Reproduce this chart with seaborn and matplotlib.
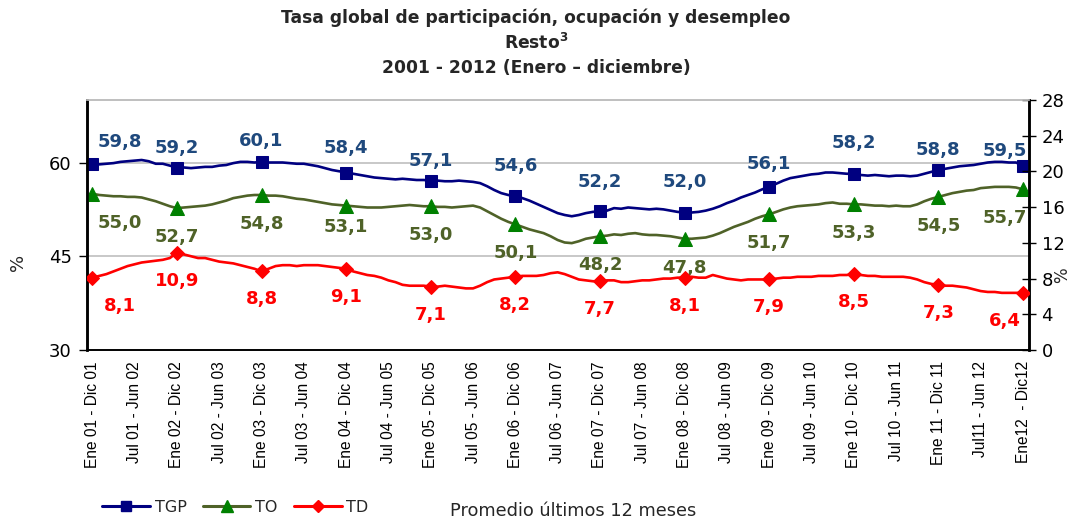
import numpy as np
import pandas as pd
import matplotlib
matplotlib.use("Agg")
import matplotlib.pyplot as plt
from matplotlib.lines import Line2D
import seaborn as sns

sns.set_theme(style="white")
plt.rcParams["font.family"] = ["DejaVu Sans"]

# ---------------- data (12-month moving averages, Ene01-Dic01 ... Ene12-Dic12) ----------------
tgp = [
    59.8, 59.7, 59.8, 59.9, 60.1, 60.2, 60.3, 60.4, 60.2, 59.8, 59.8, 59.5,
    59.2, 59.2, 59.1, 59.2, 59.3, 59.3, 59.5, 59.6, 59.9, 60.1, 60.1, 60.0,
    60.1, 60.0, 60.0, 60.0, 59.9, 59.8, 59.8, 59.6, 59.4, 59.1, 58.8, 58.6,
    58.4, 58.2, 58.0, 57.8, 57.6, 57.5, 57.4, 57.3, 57.4, 57.3, 57.2, 57.2,
    57.1, 57.1, 57.0, 57.0, 57.1, 57.0, 56.9, 56.7, 56.2, 55.6, 55.1, 54.8,
    54.6, 54.3, 53.9, 53.4, 52.9, 52.4, 51.9, 51.6, 51.4, 51.6, 51.9, 52.1,
    52.2, 52.3, 52.7, 52.6, 52.8, 52.7, 52.6, 52.5, 52.6, 52.5, 52.3, 52.1,
    52.0, 52.0, 52.1, 52.3, 52.6, 53.0, 53.5, 53.9, 54.4, 54.8, 55.2, 55.7,
    56.1, 56.6, 57.1, 57.5, 57.7, 57.9, 58.1, 58.2, 58.4, 58.4, 58.3, 58.2,
    58.2, 58.0, 57.9, 58.0, 57.9, 57.8, 57.9, 57.9, 57.8, 57.9, 58.2, 58.5,
    58.8, 59.0, 59.2, 59.4, 59.5, 59.6, 59.8, 60.0, 60.1, 60.1, 60.0, 60.0,
    59.5,
]
to = [
    55.0, 54.8, 54.7, 54.6, 54.6, 54.5, 54.5, 54.4, 54.1, 53.8, 53.4, 53.0,
    52.7, 52.8, 52.9, 53.0, 53.1, 53.3, 53.6, 53.9, 54.3, 54.5, 54.7, 54.8,
    54.8, 54.7, 54.7, 54.6, 54.4, 54.2, 54.1, 53.9, 53.7, 53.5, 53.3, 53.2,
    53.1, 53.0, 52.9, 52.8, 52.8, 52.8, 52.9, 53.0, 53.1, 53.2, 53.1, 53.0,
    53.0, 52.9, 52.9, 52.8, 52.9, 53.0, 53.1, 52.8, 52.2, 51.6, 51.0, 50.5,
    50.1, 49.7, 49.3, 49.0, 48.7, 48.2, 47.6, 47.2, 47.1, 47.4, 47.8, 48.0,
    48.2, 48.3, 48.5, 48.4, 48.6, 48.7, 48.5, 48.4, 48.4, 48.3, 48.2, 48.0,
    47.8, 47.8, 47.9, 48.0, 48.3, 48.7, 49.2, 49.7, 50.1, 50.5, 51.0, 51.4,
    51.7, 52.1, 52.5, 52.8, 53.0, 53.1, 53.2, 53.3, 53.5, 53.6, 53.4, 53.4,
    53.3, 53.3, 53.2, 53.1, 53.1, 53.0, 53.1, 53.0, 53.0, 53.3, 53.8, 54.2,
    54.5, 54.8, 55.1, 55.3, 55.5, 55.6, 55.9, 56.0, 56.1, 56.1, 56.1, 56.0,
    55.7,
]
td = [
    8.1, 8.3, 8.5, 8.8, 9.1, 9.4, 9.6, 9.8, 9.9, 10.0, 10.1, 10.3,
    10.9, 10.7, 10.5, 10.3, 10.3, 10.1, 9.9, 9.8, 9.7, 9.5, 9.3, 9.1,
    8.8, 9.1, 9.4, 9.5, 9.5, 9.4, 9.5, 9.5, 9.5, 9.4, 9.3, 9.2,
    9.1, 8.8, 8.6, 8.4, 8.3, 8.1, 7.8, 7.6, 7.3, 7.2, 7.2, 7.2,
    7.1, 7.1, 7.2, 7.1, 7.0, 6.9, 6.9, 7.2, 7.6, 7.9, 8.0, 8.1,
    8.2, 8.3, 8.3, 8.3, 8.4, 8.6, 8.7, 8.5, 8.2, 7.9, 7.8, 7.7,
    7.7, 7.8, 7.8, 7.6, 7.6, 7.7, 7.8, 7.8, 7.9, 8.0, 8.0, 8.1,
    8.1, 8.2, 8.1, 8.1, 8.4, 8.2, 8.0, 7.9, 7.8, 7.9, 7.9, 7.9,
    7.9, 8.0, 8.1, 8.1, 8.2, 8.2, 8.2, 8.3, 8.3, 8.3, 8.4, 8.4,
    8.5, 8.4, 8.3, 8.3, 8.2, 8.2, 8.2, 8.2, 8.1, 7.9, 7.6, 7.4,
    7.3, 7.2, 7.2, 7.1, 7.0, 6.8, 6.6, 6.5, 6.5, 6.4, 6.4, 6.4,
    6.4,
]
tick_labels = [
    "Ene 01 - Dic 01", "Jul 01 - Jun 02", "Ene 02 - Dic 02", "Jul 02 - Jun 03",
    "Ene 03 - Dic 03", "Jul 03 - Jun 04", "Ene 04 - Dic 04", "Jul 04 - Jun 05",
    "Ene 05 - Dic 05", "Jul 05 - Jun 06", "Ene 06 - Dic 06", "Jul 06 - Jun 07",
    "Ene 07 - Dic 07", "Jul 07 - Jun 08", "Ene 08 - Dic 08", "Jul 08 - Jun 09",
    "Ene 09 - Dic 09", "Jul 09 - Jun 10", "Ene 10 - Dic 10", "Jul 10 - Jun 11",
    "Ene 11 - Dic 11", "Jul11 - Jun 12", "Ene12  - Dic12",
]
series_names = ["TGP", "TO", "TD"]

# ---------------- styling ----------------
c_tgp, c_tgp_lab = "#000080", "#1F497D"
c_to, c_to_mk, c_to_lab = "#4F6228", "#008000", "#4F6228"
c_td, c_td_lab = "#FF0000", "#FF0000"

n = len(tgp)
df = pd.DataFrame({"i": np.arange(n), "TGP": tgp, "TO": to, "TD": td})

W, H = 1072, 518
fig = plt.figure(figsize=(W / 100, H / 100), dpi=100)
x0, x1, ytop, ybot = 87, 1029, 100, 350
ax = fig.add_axes([x0 / W, 1 - ybot / H, (x1 - x0) / W, (ybot - ytop) / H])
ax2 = ax.twinx()

sns.lineplot(data=df, x="i", y="TGP", ax=ax, color=c_tgp, lw=1.9, marker="s",
             markersize=8.5, markevery=12, markerfacecolor=c_tgp, markeredgecolor=c_tgp,
             zorder=5)
sns.lineplot(data=df, x="i", y="TO", ax=ax, color=c_to, lw=1.9, marker="^",
             markersize=10, markevery=12, markerfacecolor=c_to_mk, markeredgecolor=c_to_mk,
             zorder=5)
sns.lineplot(data=df, x="i", y="TD", ax=ax2, color=c_td, lw=1.9, marker="D",
             markersize=7, markevery=12, markerfacecolor=c_td, markeredgecolor=c_td,
             zorder=5)

ax.set_xlim(-0.75, n - 1 + 0.85)
ax.set_ylim(30, 70)
ax2.set_ylim(0, 28)
ax.set_yticks([30, 45, 60])
ax2.set_yticks(np.arange(0, 29, 4))
ax.set_xticks(np.arange(0, n, 6))
ax.set_xticklabels(tick_labels, rotation=90, fontsize=11.2, color="black",
                   family=["Liberation Sans", "DejaVu Sans"])
ax.set_xticks(np.arange(0, n, 1), minor=True)
ax.grid(False)
ax2.grid(False)
for yv in [45, 60]:
    ax.axhline(yv, color="#BFBFBF", lw=1.2, zorder=0)

ax.tick_params(axis="y", labelsize=13, direction="out", length=6, width=1, colors="black", pad=5)
ax2.tick_params(axis="y", labelsize=13, direction="inout", length=10, width=1, colors="black", pad=4)
ax.tick_params(axis="x", which="both", direction="out", length=4, width=0.8, colors="black", pad=4)

for a in (ax, ax2):
    a.spines["left"].set_color("black")
    a.spines["left"].set_linewidth(1.8)
    a.spines["right"].set_color("black")
    a.spines["right"].set_linewidth(1.8)
    a.spines["bottom"].set_color("black")
    a.spines["bottom"].set_linewidth(1.2)
    a.spines["top"].set_color("#BFBFBF")
    a.spines["top"].set_linewidth(1.2)
    a.set_xlabel("")
    a.set_ylabel("")

# percent labels
fig.text(18 / W, 1 - 262 / H, "%", rotation=90, ha="center", va="center", fontsize=13)
fig.text(1062 / W, 1 - 275 / H, "%", rotation=90, ha="center", va="center", fontsize=12)

# data labels at annual points
ann_idx = list(range(0, n, 12))
m = len(ann_idx)
dx = [28] + [0] * (m - 2) + [-18]
tgp_dy = [22, 19, 21, 24, 20, 30, 29, 30, 23, 31, 20, 15]


def fmt(v):
    return f"{v:.1f}".replace(".", ",")


lab_fs = 13
for k, i in enumerate(ann_idx):
    ax.annotate(fmt(tgp[i]), (i, tgp[i]), xytext=(dx[k], tgp_dy[k]), textcoords="offset pixels",
                ha="center", va="center", fontsize=lab_fs, fontweight="bold", color=c_tgp_lab, zorder=6)
    ax.annotate(fmt(to[i]), (i, to[i]), xytext=(dx[k], -29 if k != 3 else -21),
                textcoords="offset pixels", ha="center", va="center", fontsize=lab_fs,
                fontweight="bold", color=c_to_lab, zorder=6)
    ax2.annotate(fmt(td[i]), (i, td[i]), xytext=(dx[k], -28), textcoords="offset pixels",
                 ha="center", va="center", fontsize=lab_fs, fontweight="bold", color=c_td_lab, zorder=6)

# title
tfs = 12.3
fig.text(0.5, 1 - 18 / H, "Tasa global de participación, ocupación y desempleo",
         ha="center", va="center", fontsize=tfs, fontweight="bold")
fig.text(0.5, 1 - 43 / H, r"Resto$^{\mathregular{3}}$", ha="center", va="center",
         fontsize=tfs, fontweight="bold")
fig.text(0.5, 1 - 68 / H, "2001 - 2012 (Enero – diciembre)", ha="center", va="center",
         fontsize=tfs, fontweight="bold")

# legend
handles = [
    Line2D([], [], color=c_tgp, lw=2.2, marker="s", markersize=7, markerfacecolor=c_tgp, markeredgecolor=c_tgp),
    Line2D([], [], color=c_to, lw=2.2, marker="^", markersize=8, markerfacecolor=c_to_mk, markeredgecolor=c_to_mk),
    Line2D([], [], color=c_td, lw=2.2, marker="D", markersize=6, markerfacecolor=c_td, markeredgecolor=c_td),
]
fig.legend(handles, series_names, loc="center left", bbox_to_anchor=(102 / W, 1 - 507 / H),
           ncol=3, frameon=False, fontsize=11.5, handlelength=3.0, columnspacing=1.0,
           handletextpad=0.3, borderpad=0, borderaxespad=0)
fig.text(450 / W, 1 - 511 / H, "Promedio últimos 12 meses", ha="left", va="center", fontsize=12.8)

fig.savefig("out.png", dpi=100)
